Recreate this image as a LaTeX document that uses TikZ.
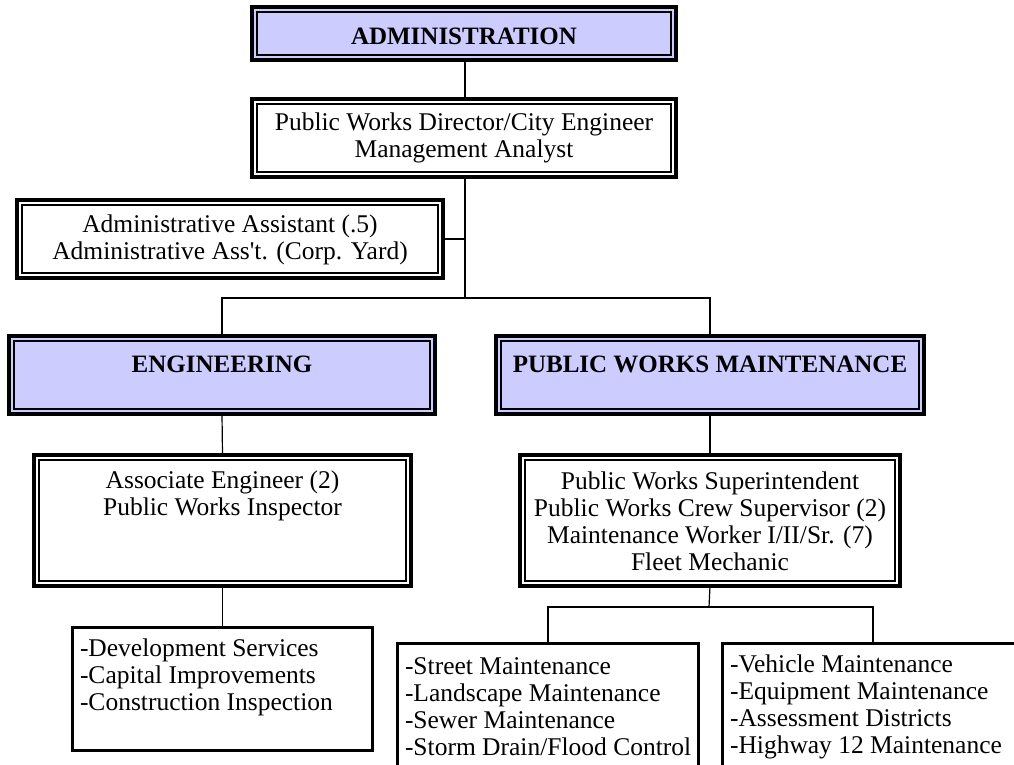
\documentclass[tikz,border=0pt]{standalone}
\usepackage{fontspec}
\setmainfont{Liberation Serif}
\definecolor{lav}{HTML}{CCCCFF}
\begin{document}
\begin{tikzpicture}[x=1pt,y=-1pt,
  txt/.style={inner sep=0pt, outer sep=0pt, align=center, font=\fontsize{25.5}{27}\selectfont},
  btxt/.style={txt, font=\fontsize{25}{27}\selectfont\bfseries},
  ltxt/.style={inner sep=0pt, outer sep=0pt, align=left, font=\fontsize{25.5}{27}\selectfont},
  dblbox/.style={draw=black, line width=4.5pt, inner sep=0pt, outer sep=0pt,
    path picture={\draw[line width=1.3pt]
      ([shift={(5pt,-5pt)}]path picture bounding box.north west) rectangle
      ([shift={(-5pt,5pt)}]path picture bounding box.south east);}},
  hdrbox/.style={dblbox, fill=lav},
  wbox/.style={dblbox, fill=white},
  listbox/.style={draw=black, line width=3pt, fill=white, inner sep=0pt, outer sep=0pt},
  conn/.style={draw=black, line width=1.2pt}
]
\useasboundingbox (0,0) rectangle (1014,765);
\clip (0,0) rectangle (1014,765);
\fill[white] (0,0) rectangle (1014,765);

% boxes
\node[hdrbox, minimum width=424pt, minimum height=53pt] (admin) at (464,33.5) {};
\node[wbox, minimum width=424pt, minimum height=78pt] (dir) at (464,138) {};
\node[wbox, minimum width=426pt, minimum height=78pt] (asst) at (230,239) {};
\node[hdrbox, minimum width=426pt, minimum height=78pt] (eng) at (222,375) {};
\node[hdrbox, minimum width=428pt, minimum height=78pt] (pwm) at (710,375) {};
\node[wbox, minimum width=377pt, minimum height=131pt] (assoc) at (222.5,520.5) {};
\node[wbox, minimum width=380pt, minimum height=131pt] (pwms) at (710,520.5) {};
\node[listbox, minimum width=300pt, minimum height=123pt] (dev) at (222.5,689) {};
\node[listbox, minimum width=301pt, minimum height=180pt] (street) at (548,733) {};
\node[listbox, minimum width=301pt, minimum height=180pt] (veh) at (873,733) {};

% texts
\node[btxt] (admint) at (464,36) {ADMINISTRATION};
\node[txt] (dirt) at (464,138) {Public Works Director/City Engineer\\Management Analyst};
\node[txt] (asstt) at (230,240) {Administrative Assistant (.5)\\Administrative Ass\textquotesingle t. (Corp. Yard)};
\node[btxt] (engt) at (222,364) {ENGINEERING};
\node[btxt] (pwmt) at (710,364) {PUBLIC WORKS MAINTENANCE};
\node[txt] (assoct) at (222.5,496) {Associate Engineer (2)\\Public Works Inspector};
\node[txt] (pwmst) at (710,521) {Public Works Superintendent\\Public Works Crew Supervisor (2)\\Maintenance Worker I/II/Sr. (7)\\Fleet Mechanic};
\node[ltxt, anchor=west] (devt) at (80,677) {-Development Services\\-Capital Improvements\\-Construction Inspection};
\node[ltxt, anchor=west] (streett) at (405,707) {-Street Maintenance\\-Landscape Maintenance\\-Sewer Maintenance\\-Storm Drain/Flood Control};
\node[ltxt, anchor=west] (veht) at (730,707) {-Vehicle Maintenance\\-Equipment Maintenance\\-Assessment Districts\\-Highway 12 Maintenance};

% connectors
\coordinate (j1) at (465,298);
\coordinate (j2) at (709,607);
\draw[conn] (admin.south -| j1) -- (dir.north -| j1);
\draw[conn] (dir.south -| j1) -- (j1);
\draw[conn] (asst.east) -- (asst.east -| j1);
\draw[conn] (eng.north) |- (j1) -| (pwm.north);
\draw[conn] (eng.south) -- (assoc.north);
\draw[conn] (pwm.south) -- (pwms.north);
\draw[conn] (assoc.south) -- (dev.north);
\draw[conn] (pwms.south) -- (j2);
\draw[conn] (street.north) |- (j2) -| (veh.north);
\end{tikzpicture}
\end{document}
